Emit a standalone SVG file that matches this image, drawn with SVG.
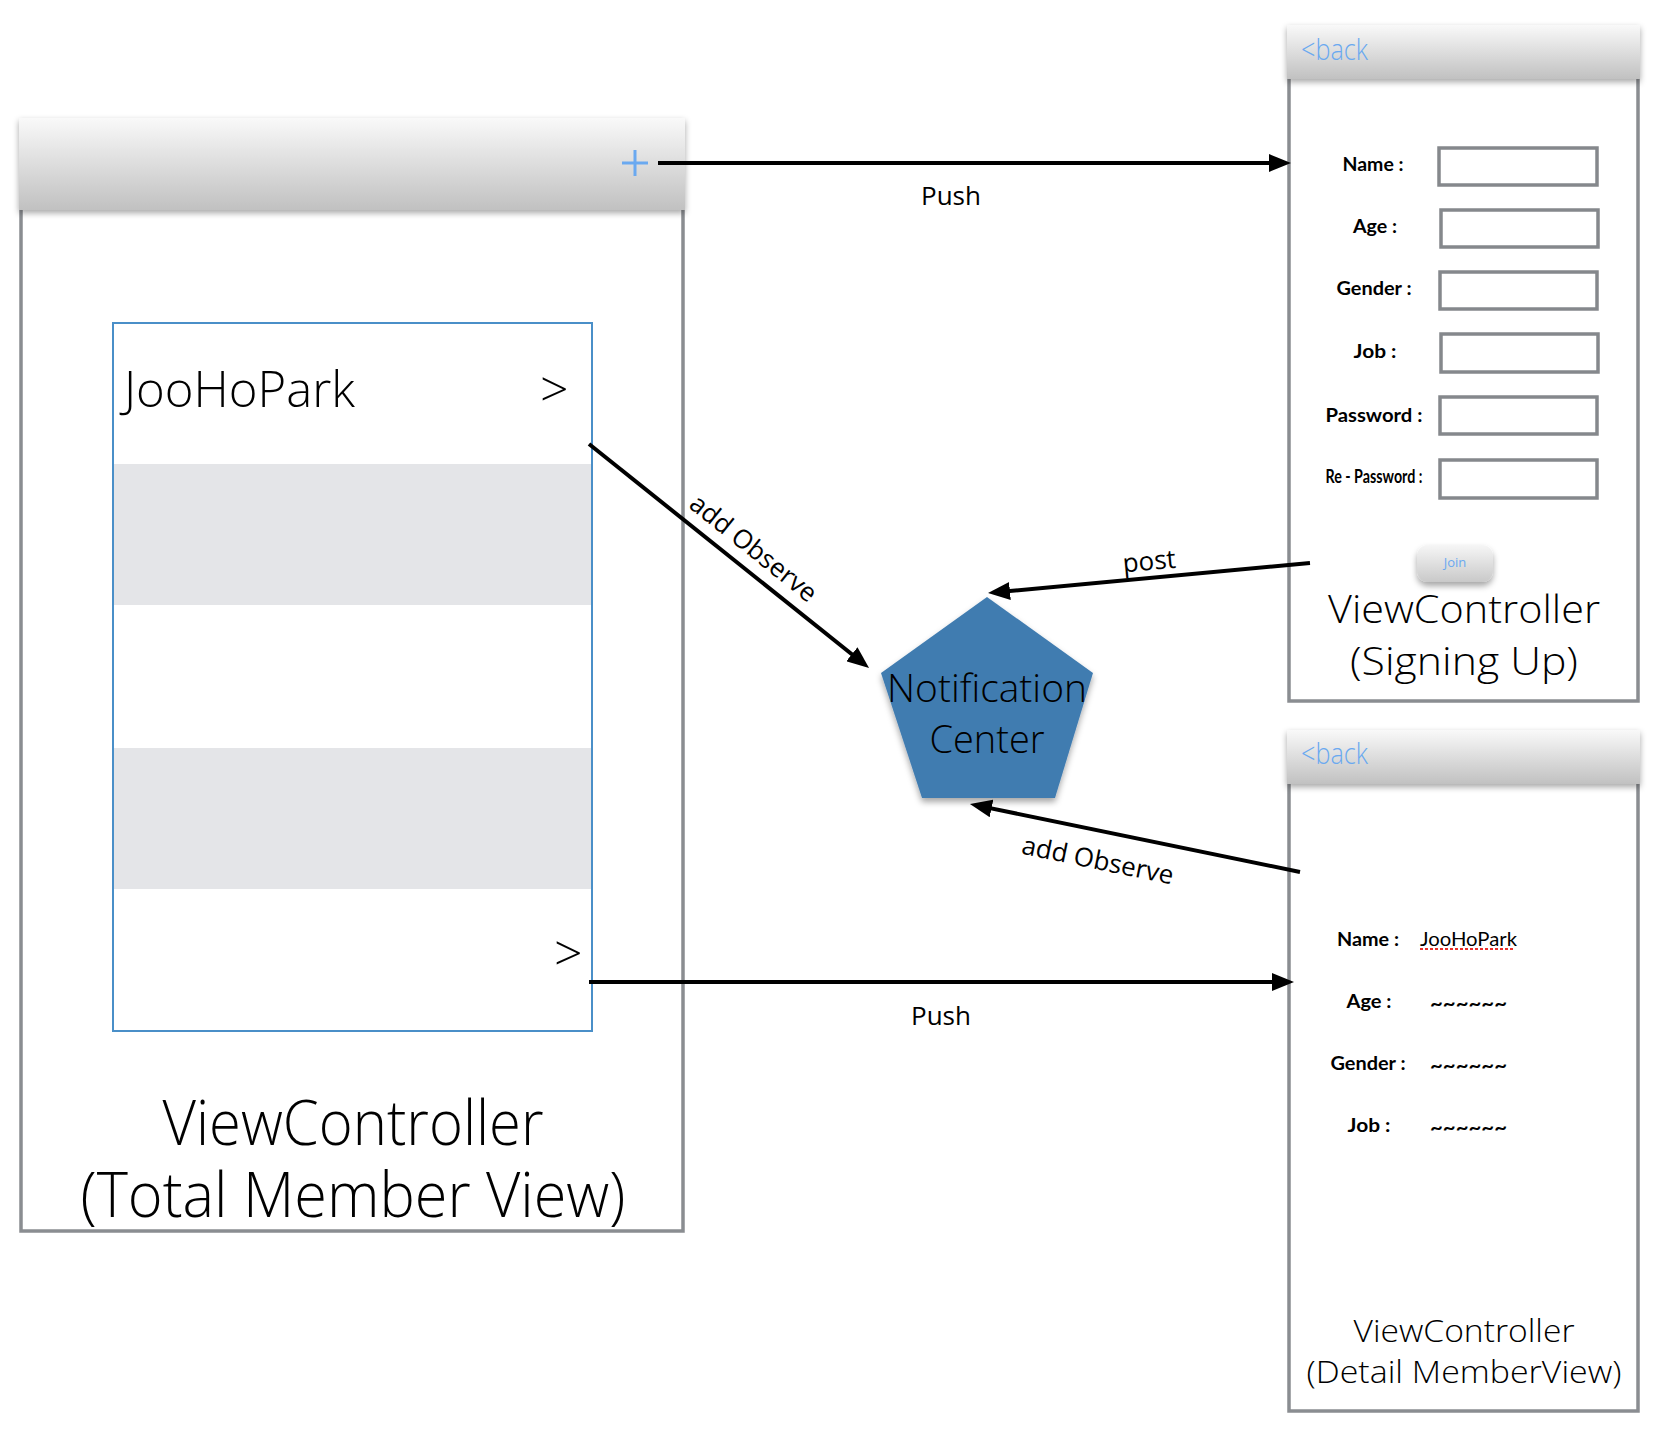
<svg xmlns="http://www.w3.org/2000/svg" width="1662" height="1434" viewBox="0 0 1662 1434">
<defs>
<linearGradient id="hdr" x1="0" y1="0" x2="0" y2="1">
<stop offset="0" stop-color="#f9f9f9"/>
<stop offset="1" stop-color="#c1c1c1"/>
</linearGradient>
<linearGradient id="btn" x1="0" y1="0" x2="0" y2="1">
<stop offset="0" stop-color="#f6f6f6"/>
<stop offset="1" stop-color="#c9c9c9"/>
</linearGradient>
<filter id="sh" x="-10%" y="-20%" width="120%" height="160%">
<feDropShadow dx="0" dy="3" stdDeviation="3" flood-color="#000" flood-opacity="0.35"/>
</filter>
<filter id="sh2" x="-20%" y="-20%" width="140%" height="150%">
<feDropShadow dx="0" dy="4" stdDeviation="3" flood-color="#000" flood-opacity="0.35"/>
</filter>
<marker id="arr" viewBox="0 0 22 18" refX="14" refY="9" markerWidth="22" markerHeight="18" markerUnits="userSpaceOnUse" orient="auto">
<path d="M0,0 L22,9 L0,18 z" fill="#000"/>
</marker>
</defs>
<style>
.body{fill:#fff;stroke:#8a8d91;stroke-width:3.5}
.hdr{fill:url(#hdr);filter:url(#sh)}
.big{font-family:"Open Sans","Liberation Sans",sans-serif;font-weight:300;fill:#000}
.lbl{font-family:Lato,"Liberation Sans",sans-serif;font-weight:bold;font-size:19px;fill:#000}
.val{font-family:Lato,"Liberation Sans",sans-serif;font-size:19px;fill:#000}
.box{fill:#fff;stroke:#85888c;stroke-width:3.5}
.back{font-family:"Open Sans","Liberation Sans",sans-serif;font-weight:300;font-size:30px;fill:#6aa9f0}
.conn{stroke:#000;stroke-width:4;fill:none;marker-end:url(#arr)}
.clbl{font-family:"Open Sans","Liberation Sans",sans-serif;font-size:26px;fill:#000}
</style>
<rect width="1662" height="1434" fill="#fff"/>

<g id="total-member-view">
<rect class="body" x="21" y="205" width="662" height="1026"/>
<rect class="hdr" x="19" y="118" width="666" height="92"/>
<g stroke="#6aa9f0" stroke-width="3">
<line x1="622" y1="163" x2="648" y2="163"/>
<line x1="635" y1="150" x2="635" y2="176"/>
</g>
<rect x="113" y="323" width="479" height="708" fill="#fff"/>
<rect x="113" y="464" width="479" height="141" fill="#e4e5e8"/>
<rect x="113" y="748" width="479" height="141" fill="#e4e5e8"/>
<rect x="113" y="323" width="479" height="708" fill="none" stroke="#4a8fc8" stroke-width="2"/>
<text class="big" x="124" y="407" font-size="49" textLength="231" lengthAdjust="spacingAndGlyphs">JooHoPark</text>
<text class="big" x="540" y="407" font-size="50">&gt;</text>
<text class="big" x="554" y="971" font-size="50">&gt;</text>
<text class="big" x="353" y="1145" font-size="62" text-anchor="middle" textLength="381" lengthAdjust="spacingAndGlyphs">ViewController</text>
<text class="big" x="353" y="1217" font-size="62" text-anchor="middle" textLength="545" lengthAdjust="spacingAndGlyphs">(Total Member View)</text>
</g>

<g id="signing-up">
<rect class="body" x="1289" y="75" width="349" height="626"/>
<rect class="hdr" x="1287" y="25" width="353" height="54"/>
<text class="back" x="1301" y="60" textLength="67" lengthAdjust="spacingAndGlyphs">&lt;back</text>
<text class="lbl" x="1373" y="171" text-anchor="middle" textLength="61" lengthAdjust="spacingAndGlyphs">Name :</text>
<text class="lbl" x="1375" y="233" text-anchor="middle" textLength="44" lengthAdjust="spacingAndGlyphs">Age :</text>
<text class="lbl" x="1374" y="295" text-anchor="middle" textLength="75" lengthAdjust="spacingAndGlyphs">Gender :</text>
<text class="lbl" x="1375" y="358" text-anchor="middle" textLength="43" lengthAdjust="spacingAndGlyphs">Job :</text>
<text class="lbl" x="1374" y="422" text-anchor="middle" textLength="97" lengthAdjust="spacingAndGlyphs">Password :</text>
<text class="lbl" x="1374" y="483" text-anchor="middle" font-size="13" textLength="97" lengthAdjust="spacingAndGlyphs">Re - Password :</text>
<rect class="box" x="1439" y="148" width="158" height="37"/>
<rect class="box" x="1441" y="210" width="157" height="37"/>
<rect class="box" x="1440" y="272" width="157" height="37"/>
<rect class="box" x="1441" y="334" width="157" height="38"/>
<rect class="box" x="1440" y="397" width="157" height="37"/>
<rect class="box" x="1440" y="460" width="157" height="38"/>
<rect x="1417" y="545" width="76" height="37" rx="11" fill="url(#btn)" filter="url(#sh2)"/>
<text x="1455" y="567" font-family="'Open Sans','Liberation Sans',sans-serif" font-size="13" fill="#6aa9f0" text-anchor="middle">Join</text>
<text class="big" x="1464" y="623" font-size="39" text-anchor="middle" textLength="272" lengthAdjust="spacingAndGlyphs">ViewController</text>
<text class="big" x="1464" y="675" font-size="39" text-anchor="middle" textLength="228" lengthAdjust="spacingAndGlyphs">(Signing Up)</text>
</g>

<g id="detail-member-view">
<rect class="body" x="1289" y="780" width="349" height="631"/>
<rect class="hdr" x="1287" y="730" width="353" height="54"/>
<text class="back" x="1301" y="764" textLength="67" lengthAdjust="spacingAndGlyphs">&lt;back</text>
<text class="lbl" x="1368" y="946" text-anchor="middle" textLength="62" lengthAdjust="spacingAndGlyphs">Name :</text>
<text class="lbl" x="1369" y="1008" text-anchor="middle" textLength="45" lengthAdjust="spacingAndGlyphs">Age :</text>
<text class="lbl" x="1368" y="1070" text-anchor="middle" textLength="75" lengthAdjust="spacingAndGlyphs">Gender :</text>
<text class="lbl" x="1369" y="1132" text-anchor="middle" textLength="43" lengthAdjust="spacingAndGlyphs">Job :</text>
<text class="val" x="1420" y="946" textLength="97" lengthAdjust="spacingAndGlyphs">JooHoPark</text>
<line x1="1420" y1="949" x2="1515" y2="949" stroke="#e8302c" stroke-width="2" stroke-dasharray="3,2"/>
<text class="lbl" x="1430" y="1010" textLength="77" lengthAdjust="spacingAndGlyphs">~~~~~~</text>
<text class="lbl" x="1430" y="1072" textLength="77" lengthAdjust="spacingAndGlyphs">~~~~~~</text>
<text class="lbl" x="1430" y="1134" textLength="77" lengthAdjust="spacingAndGlyphs">~~~~~~</text>
<text class="big" x="1464" y="1342" font-size="32" text-anchor="middle" textLength="221" lengthAdjust="spacingAndGlyphs">ViewController</text>
<text class="big" x="1464" y="1383" font-size="32" text-anchor="middle" textLength="315" lengthAdjust="spacingAndGlyphs">(Detail MemberView)</text>
</g>

<g id="notification-center">
<polygon points="987,597 1093,673 1055,798 922,798 881,673" fill="#417cb0" filter="url(#sh2)"/>
<text class="big" x="987" y="702" font-size="38" text-anchor="middle" textLength="200" lengthAdjust="spacingAndGlyphs">Notification</text>
<text class="big" x="987" y="753" font-size="38" text-anchor="middle" textLength="115" lengthAdjust="spacingAndGlyphs">Center</text>
</g>

<g id="connectors">
<line class="conn" x1="658" y1="163" x2="1283" y2="163"/>
<line class="conn" x1="589" y1="444" x2="862.8" y2="663"/>
<line class="conn" x1="1310" y1="563" x2="996" y2="592.3"/>
<line class="conn" x1="1300" y1="872" x2="977.8" y2="805.6"/>
<line class="conn" x1="589" y1="982" x2="1286" y2="982"/>
<text class="clbl" x="951" y="205" text-anchor="middle">Push</text>
<text class="clbl" x="941" y="1025" text-anchor="middle">Push</text>
<text class="clbl" x="0" y="0" text-anchor="middle" transform="translate(748,555) rotate(38.7)">add Observe</text>
<text class="clbl" x="0" y="0" text-anchor="middle" transform="translate(1150,570) rotate(-5.3)">post</text>
<text class="clbl" x="0" y="0" text-anchor="middle" transform="translate(1096,869) rotate(11.6)">add Observe</text>
</g>
</svg>
